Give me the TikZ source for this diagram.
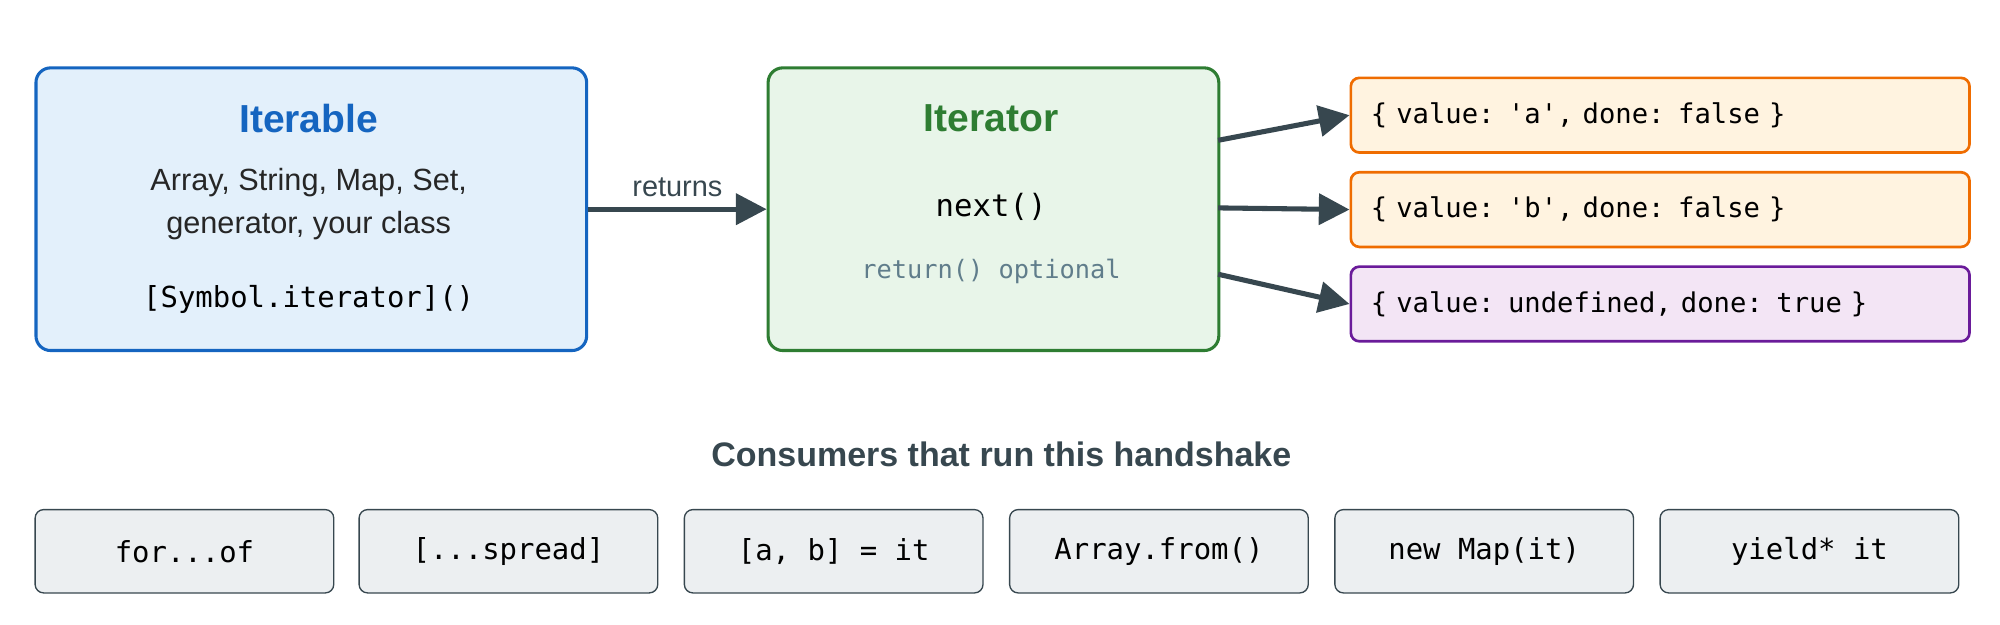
\documentclass[tikz,border=0pt]{standalone}
\usepackage{fontspec}
\setmainfont{Liberation Sans}
\setmonofont{DejaVu Sans Mono}
\usetikzlibrary{arrows.meta}
\definecolor{dk}{HTML}{37474F}
\definecolor{blu}{HTML}{1565C0}
\definecolor{grn}{HTML}{2E7D32}
\definecolor{org}{HTML}{EF6C00}
\definecolor{pur}{HTML}{6A1B9A}
\definecolor{bg}{HTML}{607D8B}
\begin{document}
\begin{tikzpicture}[x=0.9566pt,y=-0.9566pt,
 box/.style={draw,rounded corners=11pt,line width=2.3pt},
 res/.style={draw,rounded corners=6.4pt,line width=2pt,minimum width=464pt,minimum height=56pt,text width=434pt,align=left,font=\ttfamily\fontsize{20.4}{24}\selectfont,anchor=north west},
 con/.style={draw=dk,fill={rgb,255:red,236;green,239;blue,241},rounded corners=6.4pt,line width=1pt,minimum width=224pt,minimum height=62.5pt,font=\ttfamily\fontsize{21.7}{25}\selectfont,anchor=north west},
 arr/.style={dk,line width=3.8pt,-{Triangle[length=23pt,width=23pt]}}]
\useasboundingbox (0,0) rectangle (1568,490);
\node[box,draw=blu,fill={rgb,255:red,227;green,240;blue,251},minimum width=413pt,minimum height=212pt,anchor=north west] (ib) at (27,52) {};
\node[font=\bfseries\fontsize{29.3}{33}\selectfont,text=blu] (ibt) at (242,93) {Iterable};
\node[align=center,font=\fontsize{23}{32.5}\selectfont,text=black!85] (ibd) at (242,160) {Array, String, Map, Set,\\generator, your class};
\node[font=\ttfamily\fontsize{21.7}{25}\selectfont] (ibm) at (242,235) {[Symbol.iterator]()};
\node[box,draw=grn,fill={rgb,255:red,232;green,245;blue,233},minimum width=338pt,minimum height=212pt,anchor=north west] (it) at (601,52) {};
\node[font=\bfseries\fontsize{29.3}{33}\selectfont,text=grn] (itt) at (777,93) {Iterator};
\node[font=\ttfamily\fontsize{23}{26}\selectfont] (itn) at (777,162) {next()};
\node[font=\ttfamily\fontsize{19}{22}\selectfont,text=bg] (itr) at (777,213) {return() optional};
\draw[arr] (ib.east) -- node[above=4pt,font=\fontsize{21.7}{25}\selectfont,text=dk]{returns} (it.west);
\node[res,draw=org,fill={rgb,255:red,255;green,243;blue,224}] (r1) at (1058,60) {\{ value: 'a', done: false \}};
\node[res,draw=org,fill={rgb,255:red,255;green,243;blue,224}] (r2) at (1058,134) {\{ value: 'b', done: false \}};
\node[res,draw=pur,fill={rgb,255:red,243;green,229;blue,245}] (r3) at (1058,208) {\{ value: undefined, done: true \}};
\coordinate (s1) at (955,110); \coordinate (s2) at (955,163); \coordinate (s3) at (955,215);
\draw[arr] (s1) -- (r1.west);
\draw[arr] (s2) -- (r2.west);
\draw[arr] (s3) -- (r3.west);
\node[font=\bfseries\fontsize{25.5}{30}\selectfont,text=dk] (h) at (785,356) {Consumers that run this handshake};
\node[con] (c1) at (27,399) {for...of};
\node[con] (c2) at (281,399) {[...spread]};
\node[con] (c3) at (536,399) {[a, b] = it};
\node[con] (c4) at (791,399) {Array.from()};
\node[con] (c5) at (1046,399) {new Map(it)};
\node[con] (c6) at (1301,399) {yield* it};
\end{tikzpicture}
\end{document}
